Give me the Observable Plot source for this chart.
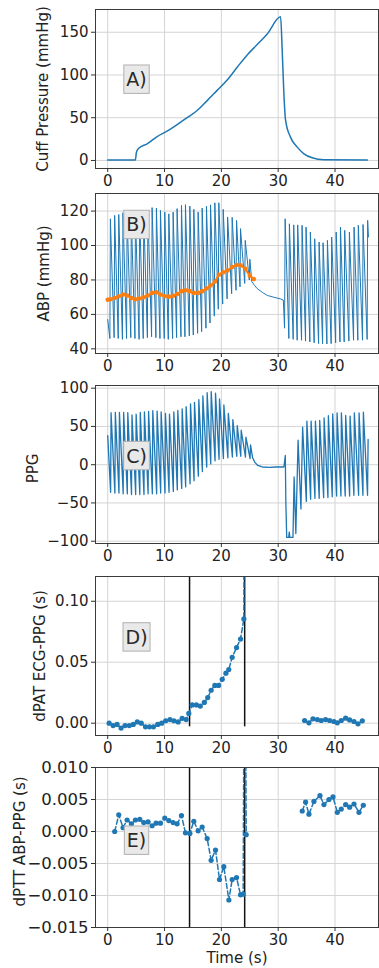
<!DOCTYPE html>
<html><head><meta charset="utf-8">
<script src="https://cdn.jsdelivr.net/npm/d3@7"></script>
<script src="https://cdn.jsdelivr.net/npm/@observablehq/plot@0.6"></script>
<style>
body{margin:0;background:#fff;}
#chart{width:379px;height:968px;overflow:hidden;}
#chart svg{display:block;}
</style>
</head><body><div id="chart"></div>
<script>
// ---------- data ----------
const xTicks = [0, 10, 20, 30, 40];

// A) cuff pressure (mmHg)
const cuffT = [0, 4.87, 5.05, 5.46, 6.93, 8.69, 10.45, 12.21, 13.98, 15.74, 17.5, 19.26, 21.02, 22.78, 24.54, 26.31, 28.07, 30.42, 30.71, 31.0, 31.3, 32.18, 33.35, 34.53, 35.99, 38.05, 45.68];
const cuffV = [0.5, 0.5, 9.7, 14.4, 19.5, 28, 34.3, 42, 50, 58.4, 70, 82, 94, 109, 123.5, 135.6, 148, 168, 128, 78, 47, 27, 15.6, 7.8, 3.1, 0.8, 0.4];
const cuffTicks = [0, 50, 100, 150];

// B) ABP waveform vertices (troughs / systolic peaks)
const abpT = [0, 0.38, 0.47, 1.13, 1.22, 1.85, 1.94, 2.59, 2.68, 3.32, 3.41, 4.06, 4.15, 4.79, 4.88, 5.52, 5.61, 6.25, 6.34, 6.98, 7.07, 7.72, 7.81, 8.48, 8.57, 9.19, 9.28, 9.95, 10.04, 10.66, 10.75, 11.42, 11.51, 12.12, 12.21, 12.89, 12.98, 13.59, 13.68, 14.36, 14.45, 15.06, 15.15, 15.82, 15.91, 16.53, 16.62, 17.29, 17.38, 18.00, 18.09, 18.76, 18.85, 19.46, 19.55, 20.23, 20.32, 21.01, 21.10, 21.81, 21.90, 22.58, 22.67, 23.28, 23.37, 24.11, 24.20, 24.92, 25.01,
  25.35, 25.8, 26.3, 27.2, 28.1, 29.2, 30.4, 30.9,
  31.12, 31.22, 31.88, 31.97, 32.64, 32.73, 33.34, 33.43, 34.11, 34.2, 34.81, 34.9, 35.57, 35.66, 36.33, 36.42, 37.11, 37.2, 37.81, 37.9, 38.57, 38.66, 39.32, 39.41, 40.11, 40.2, 40.87, 40.96, 41.61, 41.7, 42.44, 42.53, 43.26, 43.35, 44.01, 44.1, 44.84, 44.93, 45.65, 45.74, 45.88];
const abpV = [57, 46, 115.5, 46.5, 117.5, 46, 118, 45.5, 119, 46, 118, 46.5, 117, 46, 118, 45.5, 119, 46, 118, 46.5, 120, 47, 122, 46.5, 121.7, 46, 120.4, 46, 119.4, 45.5, 118.4, 46, 119.4, 46.5, 121.4, 47, 123.3, 47, 123.7, 47.5, 122.9, 48, 121, 49, 119.4, 50, 121.7, 52, 122.8, 55, 123.6, 59, 124.8, 63, 124.8, 66, 121, 69, 116.5, 72, 116.3, 74, 114.6, 76, 109.8, 78, 103, 80, 92,
  79, 77, 75, 72.8, 71, 70, 69, 68.3,
  52, 115.5, 46, 112.6, 45.5, 112, 45, 112, 45, 111.7, 44.5, 110.7, 44, 107.8, 43.5, 103.9, 43, 102, 43, 101.6, 42.8, 103, 43, 104.9, 43.5, 107.8, 44, 110.7, 44, 108.8, 44.5, 107.8, 45, 110.7, 45, 111.7, 45, 112.2, 45.5, 114.6, 105];
// B) mean pressure (orange)
const mapT = [0, 0.47, 1.22, 1.94, 2.68, 3.41, 4.15, 4.88, 5.61, 6.34, 7.07, 7.81, 8.57, 9.28, 10.04, 10.75, 11.51, 12.21, 12.98, 13.68, 14.45, 15.15, 15.91, 16.62, 17.38, 18.09, 18.85, 19.55, 20.32, 21.10, 21.90, 22.67, 23.37, 24.20, 25.01, 25.7];
const mapV = [68.5, 68.8, 69.5, 70.5, 71.5, 71, 69.5, 68.8, 69.2, 70, 71, 72.5, 72.8, 71.5, 70.5, 70.3, 70.8, 71.8, 73.5, 74, 73.5, 72.5, 72.5, 73.5, 75, 76.8, 79, 83, 84.5, 85.5, 87.5, 88.7, 88.5, 86.5, 82.5, 80.5];
const abpTicks = [40, 60, 80, 100, 120];

// C) PPG waveform vertices
const ppgT = [0, 0.51, 0.59, 1.26, 1.34, 1.98, 2.06, 2.72, 2.80, 3.45, 3.53, 4.19, 4.27, 4.92, 5.00, 5.65, 5.73, 6.38, 6.46, 7.11, 7.19, 7.85, 7.93, 8.61, 8.69, 9.32, 9.40, 10.08, 10.16, 10.79, 10.87, 11.55, 11.63, 12.25, 12.33, 13.02, 13.10, 13.72, 13.80, 14.49, 14.57, 15.19, 15.27, 15.95, 16.03, 16.66, 16.74, 17.42, 17.50, 18.13, 18.21, 18.89, 18.97, 19.59, 19.67, 20.36, 20.44, 21.14, 21.22, 21.94, 22.02, 22.71, 22.79, 23.41, 23.49, 24.24, 24.32, 25.05, 25.13,
  25.5, 25.9, 26.4, 27.2, 28.5, 29.5, 30.5, 31.0, 31.25, 31.35, 31.5, 31.85, 31.95, 32.05, 32.6, 32.8, 33.1, 33.5, 34.0, 34.3, 34.95,
  35.05, 35.71, 35.79, 36.47, 36.55, 37.22, 37.3, 38.0, 38.08, 38.75, 38.83, 39.51, 39.59, 40.28, 40.36, 41.04, 41.12, 41.79, 41.87, 42.57, 42.65, 43.32, 43.4, 44.15, 44.23, 44.91, 44.99, 45.72, 45.82];
const ppgV = [38, -36, 68, -37, 68.5, -37, 68.5, -38, 68.5, -38, 68, -39, 65, -39, 66, -39, 68.5, -39, 69, -38, 69.5, -38, 70.5, -38, 70, -37, 69, -37, 67, -36, 66, -35, 69, -33, 71, -31, 73, -29, 76, -25, 79.5, -21, 81.5, -15, 85, -9, 90, -3, 94, 1, 95.5, 5, 93.5, 7, 86, 8, 78, 9, 67, 10, 59, 11, 51, 11, 45, 10, 36, 8, 26,
  9, 3, -1, -3, -3.5, -3, -3, -3, 12, -51, -95, -95, -88, -95, -95, -16, -90, 32, -58, 49, -48,
  57, -45, 57, -44, 57, -44, 58, -43, 61, -43, 64, -42, 66.5, -41, 67.8, -41, 67.8, -41, 64.3, -41, 63.5, -40, 67.8, -40, 67.8, -40, 68.6, -40, 33];
const ppgTicks = [-100, -50, 0, 50, 100];

// D) dPAT ECG-PPG (s)
const dpatT = [0.25, 0.95, 1.65, 2.35, 3.05, 3.8, 4.5, 5.2, 5.9, 6.65, 7.35, 8.05, 8.8, 9.5, 10.2, 10.95, 11.65, 12.4, 13.1, 13.8, 14.27, 14.86, 15.6, 16.3, 17.0, 17.6, 18.2, 18.85, 19.5, 20.15, 20.8, 21.3, 21.9, 22.67, 23.37, 23.96, 24.1, null,
  34.64, 35.41, 36.11, 36.88, 37.58, 38.34, 39.05, 39.81, 40.4, 41.1, 41.87, 42.57, 43.34, 44.04, 44.8];
const dpatV = [0.000, -0.002, -0.001, -0.004, -0.002, -0.002, -0.001, 0.001, 0.000, -0.003, -0.003, -0.003, -0.001, 0.000, 0.002, 0.003, 0.002, 0.001, 0.004, 0.003, 0.008, 0.015, 0.015, 0.014, 0.017, 0.021, 0.027, 0.031, 0.031, 0.036, 0.041, 0.044, 0.054, 0.062, 0.069, 0.0855, 0.5, null,
  0.0022, 0.0003, 0.0036, 0.003, 0.0022, 0.003, 0.0022, 0.0014, 0.0003, 0.0022, 0.0041, 0.0027, 0.0014, -0.0005, 0.0019];
const dpatTicks = [0, 0.05, 0.10];

// E) dPTT ABP-PPG (s)
const dpttT = [1.23, 1.94, 2.70, 3.41, 4.17, 4.87, 5.64, 6.34, 7.1, 7.81, 8.51, 9.28, 10.04, 10.75, 11.51, 12.21, 12.98, 13.68, 14.45, 15.15, 15.91, 16.62, 17.5, 18.2, 18.97, 19.67, 20.43, 21.32, 21.9, 22.67, 23.37, 23.84, 24.1, 24.37, null,
  34.23, 34.82, 35.41, 36.29, 37.35, 38.05, 38.93, 39.64, 40.4, 41.1, 41.87, 42.57, 43.34, 44.22, 44.98];
const dpttV = [0.0, 0.0026, 0.0006, 0.0018, 0.0012, 0.0018, 0.0019, 0.0014, 0.0015, 0.0009, 0.0013, 0.0013, 0.0021, 0.0017, 0.0014, 0.0012, 0.0025, -0.0002, -0.0003, 0.0016, 0.0001, 0.0007, -0.0011, -0.0045, -0.0029, -0.0075, -0.0055, -0.0107, -0.0075, -0.0072, -0.0099, -0.0098, 0.05, -0.0005, null,
  0.0032, 0.0046, 0.0027, 0.0047, 0.0056, 0.0042, 0.005, 0.0054, 0.003, 0.0035, 0.0042, 0.0038, 0.0043, 0.003, 0.0041];
const dpttTicks = [-0.015, -0.010, -0.005, 0.000, 0.005, 0.010];

// cuff window markers (s)
const vlineT = [14.4, 24.1];

// panel tags and axis labels
const tags = ["A)", "B)", "C)", "D)", "E)"];
const tagX = [5.07, 5.07, 5.07, 5.07, 5.07];
const tagY = [94, 111.7, 10.7, 0.070, -0.0015];
const yLabels = ["Cuff Pressure (mmHg)", "ABP (mmHg)", "PPG", "dPAT ECG-PPG (s)", "dPTT ABP-PPG (s)"];
const xLabel = "Time (s)";

// ---------- drawing ----------
const BLUE = "#1f77b4", ORANGE = "#ff7f0e";
const FONT = "DejaVu Sans";
const xDomain = [-2.15, 47.65];
const minusFmt = (dec) => (d) => (d < 0 ? "\u2212" : "") + Math.abs(d).toFixed(dec);

function panel(o) {
  const marks = [
    Plot.gridX({ticks: xTicks, stroke: "#d4d4d4", strokeOpacity: 1, strokeWidth: 1}),
    Plot.gridY({ticks: o.yTicks, stroke: "#d4d4d4", strokeOpacity: 1, strokeWidth: 1}),
    ...o.marks,
    Plot.text([tags[o.k]], {x: () => tagX[o.k], y: () => tagY[o.k], text: d => d, fontSize: 19, fill: "#2a2a2a", fontFamily: FONT, className: "panel-tag"}),
    Plot.frame({stroke: "#3a3a3a", strokeWidth: 1}),
    Plot.axisX({ticks: xTicks, tickSize: 4, tickPadding: 3, label: null, stroke: "#333", fill: "#222", fontSize: 15, tickFormat: d => String(d)}),
    Plot.axisY({ticks: o.yTicks, tickSize: 4, tickPadding: 3, label: null, stroke: "#333", fill: "#222", fontSize: o.tickFont || 15, tickFormat: o.fmt}),
    Plot.text([yLabels[o.k]], {frameAnchor: "left", textAnchor: "middle", lineAnchor: "middle", dx: o.labelDx, dy: o.labelDy || 0, rotate: -90, fontSize: 15, fill: "#222", text: d => d})
  ];
  if (o.xLabel) marks.push(Plot.text([o.xLabel], {frameAnchor: "bottom", textAnchor: "middle", lineAnchor: "middle", dy: 31, fontSize: 15, fill: "#222", text: d => d}));
  return Plot.plot({
    width: 379, height: o.height,
    marginLeft: 95, marginRight: 1, marginTop: o.mt, marginBottom: o.mb,
    style: {fontFamily: FONT, fontSize: "15px", background: "white", color: "#222"},
    x: {domain: xDomain},
    y: {domain: o.yDomain},
    marks
  });
}

const dashed = {stroke: BLUE, strokeWidth: 1.5, strokeDasharray: "5,2.6", clip: true};

const figs = [
  panel({k: 0, height: 190, mt: 9, mb: 22, yDomain: [-9.4, 176.6], yTicks: cuffTicks, fmt: d => String(d), labelDx: -52,
    marks: [Plot.line(cuffT, {x: cuffT, y: cuffV, stroke: BLUE, strokeWidth: 1.5, curve: "monotone-x"})]}),
  panel({k: 1, height: 185, mt: 3, mb: 22, yDomain: [37.3, 130.2], yTicks: abpTicks, fmt: d => String(d), labelDx: -51.5,
    marks: [
      Plot.line(abpT, {x: abpT, y: abpV, stroke: BLUE, strokeWidth: 1}),
      Plot.line(mapT, {x: mapT, y: mapV, stroke: ORANGE, strokeWidth: 2.2}),
      Plot.dot(mapT, {x: mapT, y: mapV, fill: ORANGE, r: 2.3})
    ]}),
  panel({k: 2, height: 190, mt: 10, mb: 22, yDomain: [-103, 103.5], yTicks: ppgTicks, fmt: d => (d < 0 ? "\u2212" : "") + Math.abs(d), labelDx: -62, labelDy: 4,
    marks: [Plot.line(ppgT, {x: ppgT, y: ppgV, stroke: BLUE, strokeWidth: 1.3})]}),
  panel({k: 3, height: 192, mt: 11, mb: 22, yDomain: [-0.0101, 0.1203], yTicks: dpatTicks, fmt: minusFmt(2), labelDx: -55.5,
    marks: [
      Plot.ruleX(vlineT, {x: vlineT, y1: () => -0.003, y2: () => 0.1203, stroke: "#111", strokeWidth: 1.5}),
      Plot.line(dpatT, {x: dpatT, y: dpatV, ...dashed}),
      Plot.dot(dpatT, {x: dpatT, y: dpatV, fill: BLUE, r: 2.6, clip: true})
    ]}),
  panel({k: 4, height: 211, mt: 10, mb: 41, yDomain: [-0.015, 0.010], yTicks: dpttTicks, fmt: minusFmt(3), labelDx: -75, labelDy: -6, tickFont: 16.5, xLabel,
    marks: [
      Plot.ruleX(vlineT, {x: vlineT, y1: () => -0.015, y2: () => 0.010, stroke: "#111", strokeWidth: 1.5}),
      Plot.line(dpttT, {x: dpttT, y: dpttV, ...dashed}),
      Plot.dot(dpttT, {x: dpttT, y: dpttV, fill: BLUE, r: 2.6, clip: true})
    ]})
];

const chart = document.getElementById("chart");
for (const f of figs) chart.appendChild(f);

// boxes behind the panel tags
d3.selectAll("#chart g.panel-tag text").each(function () {
  const b = this.getBBox();
  const padX = 2.5, padY = 3.2;
  const rect = document.createElementNS("http://www.w3.org/2000/svg", "rect");
  rect.setAttribute("x", b.x - padX);
  rect.setAttribute("y", b.y - padY);
  rect.setAttribute("width", b.width + 2 * padX);
  rect.setAttribute("height", b.height + 2 * padY);
  rect.setAttribute("fill", "#e9e9e9");
  rect.setAttribute("stroke", "#b0b0b0");
  rect.setAttribute("stroke-width", "1");
  const tr = this.getAttribute("transform");
  if (tr) rect.setAttribute("transform", tr);
  this.parentNode.insertBefore(rect, this);
});
</script></body></html>
